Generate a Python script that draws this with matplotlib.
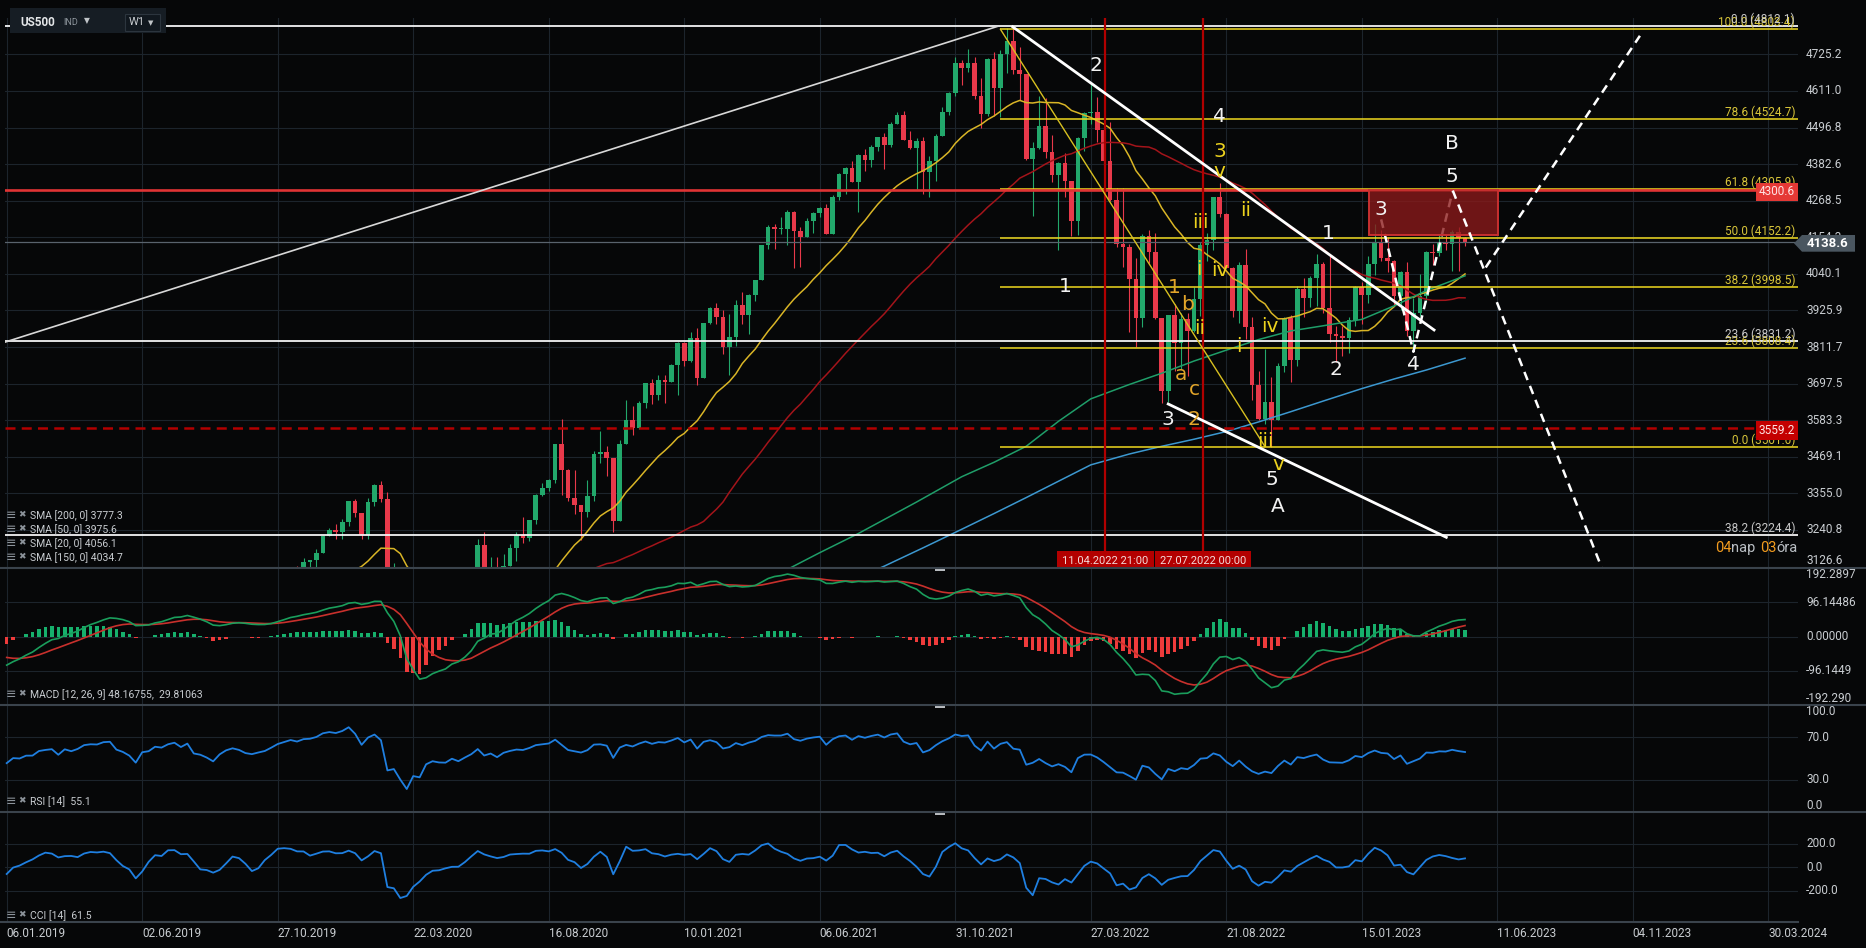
import numpy as np
import pandas as pd
import matplotlib
matplotlib.use("Agg")
import matplotlib.pyplot as plt
import matplotlib.transforms as mtrans
from matplotlib.patches import Rectangle, Polygon
from matplotlib.lines import Line2D

plt.rcParams['font.family'] = ['Roboto', 'DejaVu Sans']

# ---------------- data (weekly US500, week 0 = 06.01.2019) ----------------
# a few weeks before the first visible one, only used to warm up the indicators
prior_open = [2840, 2833, 2850, 2875, 2902, 2872, 2905, 2930, 2914, 2886, 2767, 2768, 2659, 2723, 2781, 2736, 2633, 2760, 2633, 2600, 2417, 2486]
prior_high = [2863, 2855, 2877, 2916, 2903, 2908, 2941, 2940, 2939, 2889, 2816, 2778, 2756, 2815, 2786, 2747, 2760, 2800, 2693, 2601, 2520, 2538]
prior_low = [2828, 2802, 2848, 2874, 2864, 2865, 2886, 2903, 2874, 2710, 2710, 2628, 2604, 2717, 2670, 2631, 2631, 2621, 2583, 2409, 2347, 2443]
prior_close = [2833, 2850, 2875, 2902, 2872, 2905, 2930, 2914, 2886, 2767, 2768, 2659, 2723, 2781, 2736, 2633, 2760, 2633, 2600, 2417, 2486, 2532]

open_2019 = [2532, 2596, 2671, 2665, 2707, 2708, 2776, 2793, 2804, 2743, 2822, 2801, 2834, 2893, 2907, 2905, 2940, 2946, 2881, 2860, 2826, 2752, 2873, 2887, 2950, 2942, 2990, 3014, 2977, 3026, 2932, 2919, 2889, 2847, 2926, 2979, 3007, 2992, 2962, 2952, 2970, 2986, 3023, 3067, 3093, 3120, 3110, 3141, 3146, 3169, 3221]
high_2019 = [2604, 2675, 2672, 2708, 2744, 2785, 2794, 2814, 2816, 2831, 2861, 2838, 2893, 2910, 2917, 2940, 2954, 2946, 2892, 2876, 2840, 2876, 2910, 2964, 2954, 2996, 3014, 3018, 3028, 3028, 2945, 2943, 2939, 2940, 2985, 3021, 3016, 3002, 2993, 2993, 3000, 3028, 3067, 3098, 3121, 3127, 3154, 3148, 3183, 3226, 3247]
low_2019 = [2524, 2569, 2613, 2630, 2684, 2681, 2765, 2771, 2722, 2728, 2800, 2785, 2834, 2874, 2891, 2900, 2900, 2836, 2801, 2805, 2750, 2728, 2868, 2883, 2911, 2942, 2965, 2975, 2976, 2914, 2822, 2840, 2834, 2834, 2891, 2964, 2979, 2946, 2856, 2874, 2964, 2984, 3020, 3066, 3080, 3092, 3110, 3070, 3123, 3169, 3221]
close_2019 = [2596, 2671, 2665, 2707, 2708, 2776, 2793, 2804, 2743, 2822, 2801, 2834, 2893, 2907, 2905, 2940, 2946, 2881, 2860, 2826, 2752, 2873, 2887, 2950, 2942, 2990, 3014, 2977, 3026, 2932, 2919, 2889, 2847, 2926, 2979, 3007, 2992, 2962, 2952, 2970, 2986, 3023, 3067, 3093, 3120, 3110, 3141, 3146, 3169, 3221, 3240]

open_2020 = [3240, 3235, 3265, 3330, 3295, 3226, 3328, 3380, 3338, 2954, 2972, 2711, 2305, 2541, 2489, 2790, 2875, 2837, 2831, 2930, 2864, 2955, 3044, 3194, 3041, 3098, 3009, 3130, 3185, 3225, 3216, 3271, 3351, 3373, 3397, 3508, 3427, 3341, 3319, 3298, 3348, 3477, 3484, 3465, 3270, 3509, 3585, 3558, 3638, 3699, 3663, 3709, 3703]
high_2020 = [3258, 3275, 3330, 3338, 3295, 3342, 3385, 3393, 3360, 3137, 2985, 2712, 2637, 2557, 2818, 2880, 2889, 2965, 2939, 2945, 2980, 3069, 3212, 3233, 3155, 3155, 3166, 3198, 3236, 3280, 3272, 3352, 3388, 3400, 3509, 3588, 3430, 3428, 3320, 3398, 3486, 3550, 3503, 3465, 3521, 3645, 3628, 3644, 3700, 3712, 3726, 3724, 3760]
low_2020 = [3212, 3214, 3253, 3280, 3214, 3214, 3315, 3328, 2855, 2902, 2478, 2280, 2192, 2447, 2486, 2731, 2727, 2797, 2798, 2767, 2863, 2938, 3032, 2984, 2966, 2999, 3008, 3128, 3144, 3201, 3205, 3260, 3347, 3364, 3387, 3350, 3330, 3292, 3209, 3280, 3330, 3450, 3408, 3233, 3270, 3509, 3538, 3556, 3622, 3633, 3648, 3636, 3703]
close_2020 = [3235, 3265, 3330, 3295, 3226, 3328, 3380, 3338, 2954, 2972, 2711, 2305, 2541, 2489, 2790, 2875, 2837, 2831, 2930, 2864, 2955, 3044, 3194, 3041, 3098, 3009, 3130, 3185, 3225, 3216, 3271, 3351, 3373, 3397, 3508, 3427, 3341, 3319, 3298, 3348, 3477, 3484, 3465, 3270, 3509, 3585, 3558, 3638, 3699, 3663, 3709, 3703, 3756]

open_2021 = [3756, 3825, 3768, 3841, 3714, 3887, 3935, 3907, 3811, 3842, 3943, 3913, 3975, 4020, 4129, 4185, 4180, 4181, 4233, 4174, 4156, 4204, 4230, 4247, 4166, 4281, 4352, 4370, 4327, 4412, 4395, 4437, 4468, 4442, 4509, 4535, 4459, 4433, 4455, 4357, 4391, 4471, 4545, 4605, 4698, 4683, 4698, 4595, 4538, 4712, 4621, 4726]
high_2021 = [3827, 3827, 3860, 3870, 3887, 3937, 3950, 3928, 3914, 3960, 3983, 3978, 4020, 4130, 4192, 4195, 4218, 4238, 4236, 4187, 4214, 4234, 4249, 4257, 4287, 4356, 4372, 4393, 4415, 4429, 4441, 4468, 4481, 4513, 4546, 4548, 4486, 4465, 4466, 4407, 4475, 4560, 4608, 4718, 4708, 4743, 4718, 4652, 4713, 4732, 4740, 4808]
low_2021 = [3663, 3752, 3764, 3694, 3714, 3885, 3885, 3789, 3723, 3814, 3885, 3853, 3955, 4020, 4118, 4118, 4164, 4130, 4057, 4061, 4155, 4168, 4218, 4165, 4165, 4270, 4289, 4327, 4234, 4360, 4373, 4425, 4367, 4437, 4508, 4458, 4430, 4306, 4288, 4279, 4330, 4470, 4536, 4595, 4630, 4670, 4586, 4495, 4532, 4532, 4531, 4666]
close_2021 = [3825, 3768, 3841, 3714, 3887, 3935, 3907, 3811, 3842, 3943, 3913, 3975, 4020, 4129, 4185, 4180, 4181, 4233, 4174, 4156, 4204, 4230, 4247, 4166, 4281, 4352, 4370, 4327, 4412, 4395, 4437, 4468, 4442, 4509, 4535, 4459, 4433, 4455, 4357, 4391, 4471, 4545, 4605, 4698, 4683, 4698, 4595, 4538, 4712, 4621, 4726, 4766]

open_2022 = [4766, 4677, 4663, 4398, 4432, 4501, 4419, 4349, 4385, 4329, 4204, 4463, 4543, 4546, 4488, 4393, 4272, 4132, 4123, 4024, 3901, 4158, 4109, 3901, 3675, 3912, 3825, 3899, 3863, 3962, 4130, 4145, 4280, 4228, 4058, 3924, 4067, 3873, 3693, 3586, 3640, 3583, 3753, 3901, 3771, 3993, 3965, 4026, 4072, 3934, 3852, 3845]
high_2022 = [4812, 4749, 4665, 4453, 4595, 4589, 4472, 4390, 4416, 4330, 4466, 4546, 4637, 4593, 4490, 4513, 4308, 4308, 4134, 4090, 4165, 4177, 4169, 3901, 3913, 3946, 3918, 3918, 3999, 4141, 4168, 4281, 4325, 4230, 4062, 4076, 4119, 3907, 3736, 3806, 3718, 3762, 3905, 3912, 4001, 4028, 4034, 4101, 4076, 4101, 3876, 3878]
low_2022 = [4663, 4582, 4395, 4222, 4431, 4401, 4328, 4115, 4279, 4157, 4162, 4425, 4507, 4450, 4381, 4267, 4124, 4063, 3859, 3811, 3875, 4074, 3900, 3637, 3640, 3738, 3742, 3721, 3860, 3910, 4080, 4113, 4219, 4057, 3907, 3886, 3838, 3647, 3585, 3572, 3501, 3583, 3733, 3704, 3751, 3907, 3937, 3940, 3918, 3828, 3764, 3784]
close_2022 = [4677, 4663, 4398, 4432, 4501, 4419, 4349, 4385, 4329, 4204, 4463, 4543, 4546, 4488, 4393, 4272, 4132, 4123, 4024, 3901, 4158, 4109, 3901, 3675, 3912, 3825, 3899, 3863, 3962, 4130, 4145, 4280, 4228, 4058, 3924, 4067, 3873, 3693, 3586, 3640, 3583, 3753, 3901, 3771, 3993, 3965, 4026, 4072, 3934, 3852, 3845, 3840]

open_2023 = [3840, 3895, 3999, 3973, 4071, 4136, 4090, 4079, 3970, 4046, 3862, 3917, 3971, 4109, 4105, 4138, 4134, 4172, 4152]
high_2023 = [3907, 4003, 4015, 4095, 4195, 4176, 4156, 4082, 4048, 4078, 3964, 4039, 4110, 4133, 4164, 4164, 4176, 4187, 4156]
low_2023 = [3794, 3877, 3885, 3949, 4037, 4080, 4047, 3943, 3928, 3847, 3809, 3908, 3951, 4069, 4095, 4114, 4049, 4048, 4128]
close_2023 = [3895, 3999, 3973, 4071, 4136, 4090, 4079, 3970, 4046, 3862, 3917, 3971, 4109, 4105, 4138, 4134, 4172, 4152, 4138.6]

# long moving averages (their history starts before 2019)
sma150_weeks = [118, 121, 126, 132, 141, 148, 153, 158, 163, 168, 174, 179, 184, 189, 194, 199, 204, 210, 215, 220, 226]
sma150_vals = [3086, 3118, 3170, 3230, 3328, 3407, 3452, 3502, 3580, 3650, 3695, 3730, 3768, 3802, 3835, 3862, 3878, 3898, 3940, 3988, 4034]
sma200_weeks = [132, 136, 142, 148, 153, 158, 163, 168, 174, 179, 184, 189, 194, 199, 204, 210, 215, 220, 226]
sma200_vals = [3093, 3128, 3185, 3243, 3292, 3342, 3393, 3444, 3478, 3502, 3524, 3548, 3578, 3610, 3643, 3682, 3712, 3740, 3777]

date_labels = ['06.01.2019', '02.06.2019', '27.10.2019', '22.03.2020', '16.08.2020', '10.01.2021', '06.06.2021',
               '31.10.2021', '27.03.2022', '21.08.2022', '15.01.2023', '11.06.2023', '04.11.2023', '30.03.2024']
price_ticks = [3126.6, 3240.8, 3355.0, 3469.1, 3583.3, 3697.5, 3811.7, 3925.9, 4040.1, 4154.3, 4268.5, 4382.6, 4496.8, 4611.0, 4725.2]
macd_ticks = [192.2897, 96.14486, 0.0, -96.1449, -192.290]
macd_tick_text = ['192.2897', '96.14486', '0.00000', '-96.1449', '-192.290']
rsi_ticks = [100.0, 70.0, 30.0, 0.0]
cci_ticks = [200.0, 0.0, -200.0]

fib_y_pct = ['100.0', '78.6', '61.8', '50.0', '38.2', '23.6', '0.0']
fib_y_price = [4803.4, 4524.7, 4305.9, 4152.2, 3998.5, 3808.4, 3501.0]
fib_w_pct = ['0.0', '23.6', '38.2']
fib_w_price = [4812.1, 3831.2, 3224.4]

resistance = 4300.6
support = 3559.2
last_price = 4138.6
vline_weeks = [170.27, 185.43]
vline_text = ['11.04.2022 21:00', '27.07.2022 00:00']

waves_white = [(168.8, 4690, '2'), (188.0, 4532, '4'), (164.0, 4002, '1'), (204.8, 4166, '1'), (213.0, 4241, '3'),
               (224.0, 4447, 'B'), (224.0, 4345, '5'), (206.0, 3742, '2'), (218.0, 3758, '4'), (180.0, 3586, '3'),
               (196.0, 3397, '5'), (197.0, 3313, 'A')]
waves_yellow = [(188, 4421, '3'), (188, 4359, 'v'), (192, 4239, 'ii'), (185, 4200, 'iii'), (188, 4052, 'iv'),
                (184.8, 4054, 'i'), (184.8, 3870, 'ii'), (195, 3516, 'iii'), (197, 3444, 'v'), (195.8, 3875, 'iv'),
                (190.9, 3813, 'i')]
waves_orange = [(181, 3998, '1'), (183, 3946, 'b'), (182, 3727, 'a'), (184, 3678, 'c'), (184, 3586, '2')]

# ---------------- series ----------------
O = np.array(open_2019 + open_2020 + open_2021 + open_2022 + open_2023, float)
Hh = np.array(high_2019 + high_2020 + high_2021 + high_2022 + high_2023, float)
Ll = np.array(low_2019 + low_2020 + low_2021 + low_2022 + low_2023, float)
C = np.array(close_2019 + close_2020 + close_2021 + close_2022 + close_2023, float)
n = len(C)
xs = np.arange(n)
NP = len(prior_close)

allc = pd.Series(prior_close + list(C))
allh = pd.Series(prior_high + list(Hh))
alll = pd.Series(prior_low + list(Ll))

sma20 = allc.rolling(20).mean().values[NP:]
sma50 = allc.rolling(50).mean().values[NP:]

macd = allc.ewm(span=12, adjust=False).mean() - allc.ewm(span=26, adjust=False).mean()
signal = macd.ewm(span=9, adjust=False).mean()
hist = (macd - signal).values[NP:]
macd = macd.values[NP:]
signal = signal.values[NP:]

d = allc.diff()
gain = d.clip(lower=0).ewm(alpha=1 / 14, adjust=False).mean()
loss = (-d.clip(upper=0)).ewm(alpha=1 / 14, adjust=False).mean()
rsi = (100 - 100 / (1 + gain / loss)).values[NP:]

tp = (allh + alll + allc) / 3
tp_ma = tp.rolling(14).mean()
tp_md = tp.rolling(14).apply(lambda v: np.abs(v - v.mean()).mean(), raw=True)
cci = ((tp - tp_ma) / (0.015 * tp_md)).values[NP:]

# ---------------- styling ----------------
BG = '#060708'
GRID = '#1c242c'
SEP = '#3a434c'
TXT = '#c9cdd1'
GREEN = '#22a86b'
RED = '#e8394a'
YEL = '#efd91f'
YEL_TXT = '#d8c53a'
ORANGE = '#e2a52a'

W, H = 1866, 948
PL, PR = 5, 1798
X0, X1 = -0.26, 277.6

fig = plt.figure(figsize=(W / 100, H / 100), dpi=100, facecolor=BG)


def panel(top, bottom, yl):
    a = fig.add_axes([PL / W, 1 - bottom / H, (PR - PL) / W, (bottom - top) / H])
    a.set_facecolor(BG)
    for sp in a.spines.values():
        sp.set_visible(False)
    a.set_xlim(X0, X1)
    a.set_ylim(*yl)
    a.set_xticks(np.arange(0, 274, 21))
    a.tick_params(axis='both', length=0, labelleft=False, labelbottom=False)
    a.grid(True, color=GRID, lw=0.8)
    a.set_axisbelow(True)
    return a


def right_labels(a, vals, texts, edge_top=False, edge_bottom=False):
    tr = mtrans.blended_transform_factory(a.transAxes, a.transData)
    for i, (v, t) in enumerate(zip(vals, texts)):
        va = 'center'
        if edge_top and i == 0:
            va = 'top'
        if edge_bottom and i == len(vals) - 1:
            va = 'bottom'
        a.text(1.0045, v, t, transform=tr, ha='left', va=va, color=TXT, fontsize=8.5, clip_on=False)


ax = panel(18, 568, (3122.2, 4838.5))
axm = panel(568, 705, (-192.29, 192.29))
axr = panel(705, 812, (0, 100))
axc = panel(812, 921.5, (-462, 470))

ax.set_yticks(price_ticks)
axm.set_yticks([-96.14486, 0, 96.14486])
axr.set_yticks([30, 70])
axc.set_yticks(cci_ticks)

tr_main = mtrans.blended_transform_factory(ax.transAxes, ax.transData)
for v in price_ticks[::-1]:
    ax.text(1.0045, v, f'{v:.1f}', transform=tr_main, ha='left',
            va='bottom' if v == price_ticks[0] else 'center', color=TXT, fontsize=8.5)
right_labels(axm, macd_ticks, macd_tick_text, True, True)
right_labels(axr, rsi_ticks, [f'{v:.1f}' for v in rsi_ticks], True, True)
right_labels(axc, cci_ticks, [f'{v:.1f}' for v in cci_ticks])

axc.set_xticklabels(date_labels, ha='left')
axc.tick_params(axis='x', labelbottom=True, labelcolor=TXT, labelsize=8.5, pad=4)

# ---------------- main price panel ----------------
up = C >= O
cols = np.where(up, GREEN, RED)
ax.vlines(xs, Ll, Hh, colors=cols, lw=0.8, zorder=3)
ax.bar(xs, np.maximum(np.abs(C - O), 3.0), bottom=np.minimum(O, C), width=0.72, color=cols, lw=0, zorder=4)

ax.plot(xs, sma20, color='#d9b526', lw=1.1, zorder=5)
ax.plot(xs, sma50, color='#a3141a', lw=1.1, zorder=5)
ax.plot(sma150_weeks, sma150_vals, color='#1f9e69', lw=1.1, zorder=5)
ax.plot(sma200_weeks, sma200_vals, color='#3c98d0', lw=1.1, zorder=5)

# horizontal levels
ax.axhline(last_price, color='#59636d', lw=0.9, zorder=5)
ax.hlines(fib_w_price, X0, X1, color='#f4f4f4', lw=1.3, zorder=5)
ax.hlines(fib_y_price, 154, X1, color=YEL, lw=1.1, zorder=5)
ax.axhline(resistance, color='#e03434', lw=1.9, zorder=5)
ax.axhline(support, color='#b30000', lw=1.8, ls=(0, (4, 2.5)), zorder=5)

for v in vline_weeks:
    ax.axvline(v, color='#b00000', lw=1.6, zorder=5)

# trend lines
ax.plot([-0.26, 153.5], [3827, 4812], color='#d8d8d8', lw=1.2, zorder=5)
ax.plot([155.9, 221.2], [4811, 3865], color='white', lw=2.0, zorder=6)
ax.plot([180.0, 223.1], [3634, 3218], color='white', lw=2.0, zorder=6)
ax.plot([154, 195], [4803.4, 3501.0], color='#d8c020', lw=1.0, zorder=5)

dash = (0, (3.5, 2.5))
ax.plot([213.0, 218.0, 224.1], [4210, 3797, 4300], color='white', lw=1.8, ls=dash, zorder=6)
ax.add_patch(Rectangle((211.1, 4160), 20.0, resistance - 4160, fc=(0.55, 0.1, 0.1, 0.78),
                       ec='#c83030', lw=1.4, zorder=7))
ax.plot([224.1, 247.2], [4300, 3122], color='white', lw=1.8, ls=dash, zorder=8)
ax.plot([229.2, 253.1], [4060, 4783], color='white', lw=1.8, ls=dash, zorder=8)

# fibonacci labels
xr = (1795 - PL) / (PR - PL)
for p, v in zip(fib_y_pct, fib_y_price):
    ax.text(xr, v, f'{p} ({v:.1f})', transform=tr_main, ha='right', va='bottom', color=YEL_TXT, fontsize=8.5, zorder=9)
for p, v in zip(fib_w_pct, fib_w_price):
    ax.text(xr, v, f'{p} ({v:.1f})', transform=tr_main, ha='right', va='bottom', color='#c8c8c8', fontsize=8.5, zorder=9)

ax.text(xr, resistance - 5, f'{resistance:.1f}', transform=tr_main, ha='right', va='center', color='#ffe4e4',
        fontsize=8.5, zorder=12, bbox=dict(boxstyle='square,pad=0.25', fc='#e53935', ec='none'))
ax.text(xr, support - 7, f'{support:.1f}', transform=tr_main, ha='right', va='center', color='#ffe4e4',
        fontsize=8.5, zorder=12, bbox=dict(boxstyle='square,pad=0.25', fc='#c40000', ec='none'))

tr_vx = mtrans.blended_transform_factory(ax.transData, ax.transAxes)
for i, (v, t) in enumerate(zip(vline_weeks, vline_text)):
    ax.text(v, 0.0135, t, transform=tr_vx, ha='center', va='center', color='#f4dada', fontsize=8,
            zorder=12 + i, bbox=dict(boxstyle='square,pad=0.45', fc='#b30000', ec='none'))

# wave counts
for x, y, t in waves_white:
    ax.text(x, y, t, ha='center', va='center', color='#f2f2f2', fontsize=14.5, family=['DejaVu Sans'], zorder=10)
for x, y, t in waves_yellow:
    ax.text(x, y, t, ha='center', va='center', color='#ecd21e', fontsize=14.5, family=['DejaVu Sans'], zorder=10)
for x, y, t in waves_orange:
    ax.text(x, y, t, ha='center', va='center', color=ORANGE, fontsize=14.5, family=['DejaVu Sans'], zorder=10)

# ---------------- indicator panels ----------------
hcols = np.where(hist >= 0, '#16b06c', '#ee3b3b')
axm.bar(xs, hist, width=0.55, color=hcols, lw=0, zorder=3)
axm.plot(xs, signal, color='#c8302c', lw=1.2, zorder=4)
axm.plot(xs, macd, color='#1a9e5c', lw=1.2, zorder=4)
axr.plot(xs, rsi, color='#1f7fe0', lw=1.3)
axc.plot(xs, cci, color='#1f7fe0', lw=1.3)


# ---------------- figure furniture ----------------
def fx(px):
    return px / W


def fy(py):
    return 1 - py / H


def ftext(x, y, s, **kw):
    fig.text(fx(x), fy(y), s, **kw)


for y, x1 in [(568, W), (705, W), (812, W), (921.5, PR)]:
    fig.add_artist(Line2D([0, fx(x1)], [fy(y), fy(y)], color=SEP, lw=1.5))
for y in [569.5, 706.5, 813.5]:
    fig.add_artist(Rectangle((fx(935), fy(y + 1.5)), 10 / W, 3 / H, fc='#b8bcc0', ec='none', transform=fig.transFigure))

# last price tag
fig.add_artist(Polygon([(fx(1794), fy(243.3)), (fx(1802), fy(235)), (fx(1855), fy(235)),
                        (fx(1855), fy(251.7)), (fx(1802), fy(251.7))], closed=True, fc='#4a5660', ec='none',
                       transform=fig.transFigure, zorder=20))
ftext(1828, 243.5, f'{last_price:.1f}', ha='center', va='center', color='white', fontsize=9.5, weight='bold', zorder=21)

# countdown
ftext(1715, 547.7, '04', ha='left', va='center', color='#f39c1f', fontsize=10.5)
ftext(1731, 547.7, 'nap', ha='left', va='center', color='#b9bec3', fontsize=10.5)
ftext(1760, 547.7, '03', ha='left', va='center', color='#f39c1f', fontsize=10.5)
ftext(1776, 547.7, 'óra', ha='left', va='center', color='#b9bec3', fontsize=10.5)

# header
fig.add_artist(Rectangle((fx(10), fy(33)), 156 / W, 25 / H, fc='#161d24', ec='none', transform=fig.transFigure))
fig.add_artist(Rectangle((fx(124.5), fy(30.5)), 35.5 / W, 17 / H, fc='#11181f', ec='#2c353e', lw=0.8,
                         transform=fig.transFigure))
ftext(20, 22, 'US500', ha='left', va='center', color='#e4e6e8', fontsize=8.5, weight='bold')
ftext(63, 22.5, 'IND', ha='left', va='center', color='#8e969d', fontsize=6.5)
ftext(84, 21, '▼', ha='left', va='center', color='#c0c4c8', fontsize=5.5, family=['DejaVu Sans'])
ftext(129, 22, 'W1', ha='left', va='center', color='#c8ccd0', fontsize=8)
ftext(148, 23, '▼', ha='left', va='center', color='#c0c4c8', fontsize=5, family=['DejaVu Sans'])

# indicator legends
legend_rows = [(515.3, 'SMA [200, 0] 3777.3'), (529.3, 'SMA [50, 0] 3975.6'), (543.3, 'SMA [20, 0] 4056.1'),
               (557.3, 'SMA [150, 0] 4034.7'), (694.3, 'MACD [12, 26, 9] 48.16755,  29.81063'),
               (801.7, 'RSI [14]  55.1'), (915.3, 'CCI [14]  61.5')]
for y, t in legend_rows:
    ftext(6, y, '≡', ha='left', va='center', color='#8c939a', fontsize=9, family=['DejaVu Sans'])
    ftext(18, y - 1, '✖', ha='left', va='center', color='#8c939a', fontsize=6.5, family=['DejaVu Sans'])
    ftext(30.5, y, t, ha='left', va='center', color=TXT, fontsize=7.5)

fig.savefig('out.png', dpi=100, facecolor=BG)
